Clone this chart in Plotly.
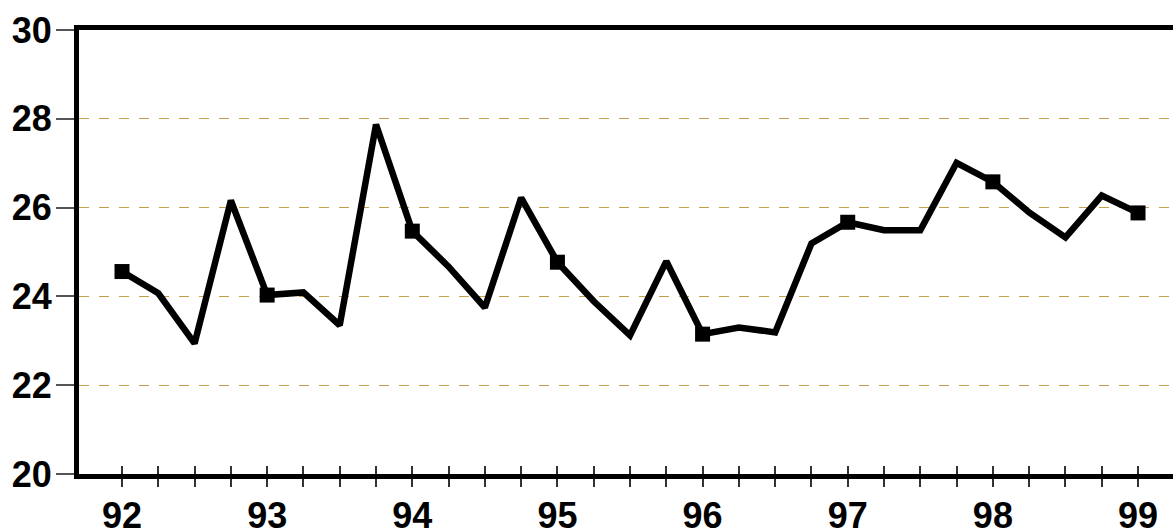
import plotly.graph_objects as go

quarters = [92.0, 92.25, 92.5, 92.75, 93.0, 93.25, 93.5, 93.75,
            94.0, 94.25, 94.5, 94.75, 95.0, 95.25, 95.5, 95.75,
            96.0, 96.25, 96.5, 96.75, 97.0, 97.25, 97.5, 97.75,
            98.0, 98.25, 98.5, 98.75, 99.0]
values = [24.56, 24.07, 22.94, 26.16, 24.03, 24.09, 23.35, 27.87,
          25.47, 24.67, 23.75, 26.22, 24.77, 23.89, 23.12, 24.79,
          23.15, 23.30, 23.19, 25.19, 25.67, 25.49, 25.49, 27.01,
          26.58, 25.89, 25.33, 26.27, 25.88]
year_labels = ["92", "93", "94", "95", "96", "97", "98", "99"]
y_ticks = [20, 22, 24, 26, 28, 30]

tick_text = []
yi = 0
for q in quarters:
    if q == int(q):
        tick_text.append(year_labels[yi])
        yi += 1
    else:
        tick_text.append("")

annual_x = [q for q in quarters if q == int(q)]
annual_y = [v for q, v in zip(quarters, values) if q == int(q)]

fig = go.Figure()
fig.add_trace(go.Scatter(
    x=quarters, y=values, mode="lines",
    line=dict(color="black", width=6.5),
    showlegend=False, hoverinfo="skip"
))
fig.add_trace(go.Scatter(
    x=annual_x, y=annual_y, mode="markers",
    marker=dict(symbol="square", size=15, color="black", opacity=1,
                line=dict(width=0, color="black")),
    showlegend=False, hoverinfo="skip"
))
# invisible trace to activate the overlay axis for inner tick marks
fig.add_trace(go.Scatter(x=[quarters[0]], y=[values[0]], xaxis="x2", mode="markers",
                         marker=dict(opacity=0), showlegend=False, hoverinfo="skip"))

x_range = [91.7037, 99.241]
font = dict(family="Liberation Sans, Arial, sans-serif", size=36, color="black", weight="bold")
fig.update_layout(
    width=1173, height=531,
    margin=dict(l=79, r=0, t=30, b=57, autoexpand=False),
    plot_bgcolor="white", paper_bgcolor="white",
    xaxis=dict(
        range=x_range, automargin=False,
        tickmode="array", tickvals=quarters, ticktext=tick_text,
        ticks="outside", ticklen=8, tickwidth=1.5, tickcolor="#333",
        showline=True, linecolor="black", linewidth=5, mirror=True,
        showgrid=False, zeroline=False,
        tickfont=font, ticklabelstandoff=-2,
    ),
    xaxis2=dict(
        overlaying="x", anchor="y", side="bottom",
        range=x_range,
        tickmode="array", tickvals=quarters, showticklabels=False,
        ticks="inside", ticklen=8, tickwidth=1.5, tickcolor="#333",
        showline=False, showgrid=False, zeroline=False,
    ),
    yaxis=dict(
        range=[20, 30], tickvals=y_ticks, automargin=False,
        ticks="outside", ticklen=18, tickwidth=1.5, tickcolor="#555",
        showline=True, linecolor="black", linewidth=5, mirror=False,
        showgrid=True, gridcolor="#c4a14c", gridwidth=1.2, griddash="10px,10px",
        zeroline=False, tickfont=font, ticklabelstandoff=-3,
    ),
)

fig.write_html(
    "out.html",
    config={"displayModeBar": False},
    post_script="document.body.style.margin='0';document.body.style.overflow='hidden';",
)
